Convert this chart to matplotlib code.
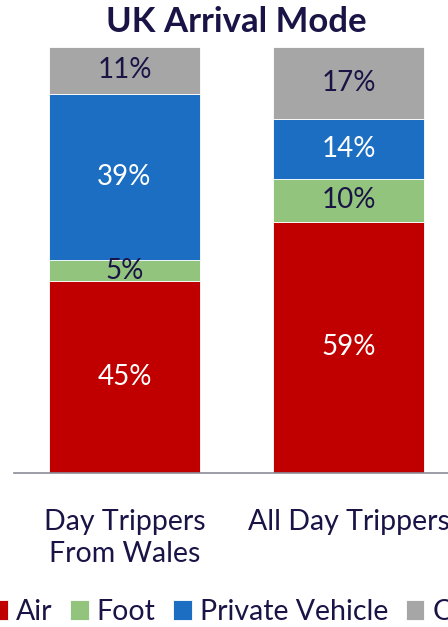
import matplotlib.pyplot as plt
import numpy as np

plt.rcParams['font.family'] = ['Lato', 'DejaVu Sans']

categories = ['Day Trippers\nFrom Wales', 'All Day Trippers']
modes = ['Air', 'Foot', 'Private Vehicle', 'Other']
air = [45, 59]
foot = [5, 10]
private_vehicle = [39, 14]
other = [11, 17]

colors = ['#C00000', '#93C47D', '#1B6EC2', '#A6A6A6']
label_colors = ['white', '#1A1446', 'white', '#1A1446']
navy = '#1A1446'

fig = plt.figure(figsize=(4.48, 6.27), dpi=100)
# axes spans from x=14px to beyond right edge; plot area bottom at y=473, top 100% at y=47
ax = fig.add_axes([14 / 448, 1 - 473 / 627, 445 / 448, 426 / 627])

x = np.arange(len(categories))
series = [air, foot, private_vehicle, other]
bottom = np.zeros(len(categories))
handles = []
for vals, col, lcol, name in zip(series, colors, label_colors, modes):
    bars = ax.bar(x, vals, width=0.674, bottom=bottom, color=col,
                  edgecolor='white', linewidth=0.6, label=name)
    handles.append(bars)
    for xi, v, b in zip(x, vals, bottom):
        ax.text(xi, b + v / 2, f'{v}%', ha='center', va='center',
                fontsize=20, color=lcol)
    bottom += np.array(vals)

ax.set_xlim(-0.493, 1.493)
ax.set_ylim(0, 100)
ax.set_yticks([])
for s in ['top', 'right', 'left']:
    ax.spines[s].set_visible(False)
ax.spines['bottom'].set_color('#8C8C99')
ax.spines['bottom'].set_linewidth(1.2)
ax.set_xticks(x)
ax.set_xticklabels(categories, fontsize=20.5, color=navy, linespacing=1.3)
ax.tick_params(axis='x', length=0, pad=26)

fig.text(0.527, 1 - 22 / 627, 'UK Arrival Mode', ha='center', va='center',
         fontsize=25, fontweight='bold', color=navy)

fig.legend(handles=handles, labels=modes, loc='center left',
           bbox_to_anchor=(-36 / 448, 1 - 612 / 627), ncol=4, frameon=False,
           fontsize=20.5, handlelength=0.65, handleheight=0.65, handletextpad=0.28,
           columnspacing=0.62, labelcolor=navy)

fig.savefig('out.png', dpi=100)
